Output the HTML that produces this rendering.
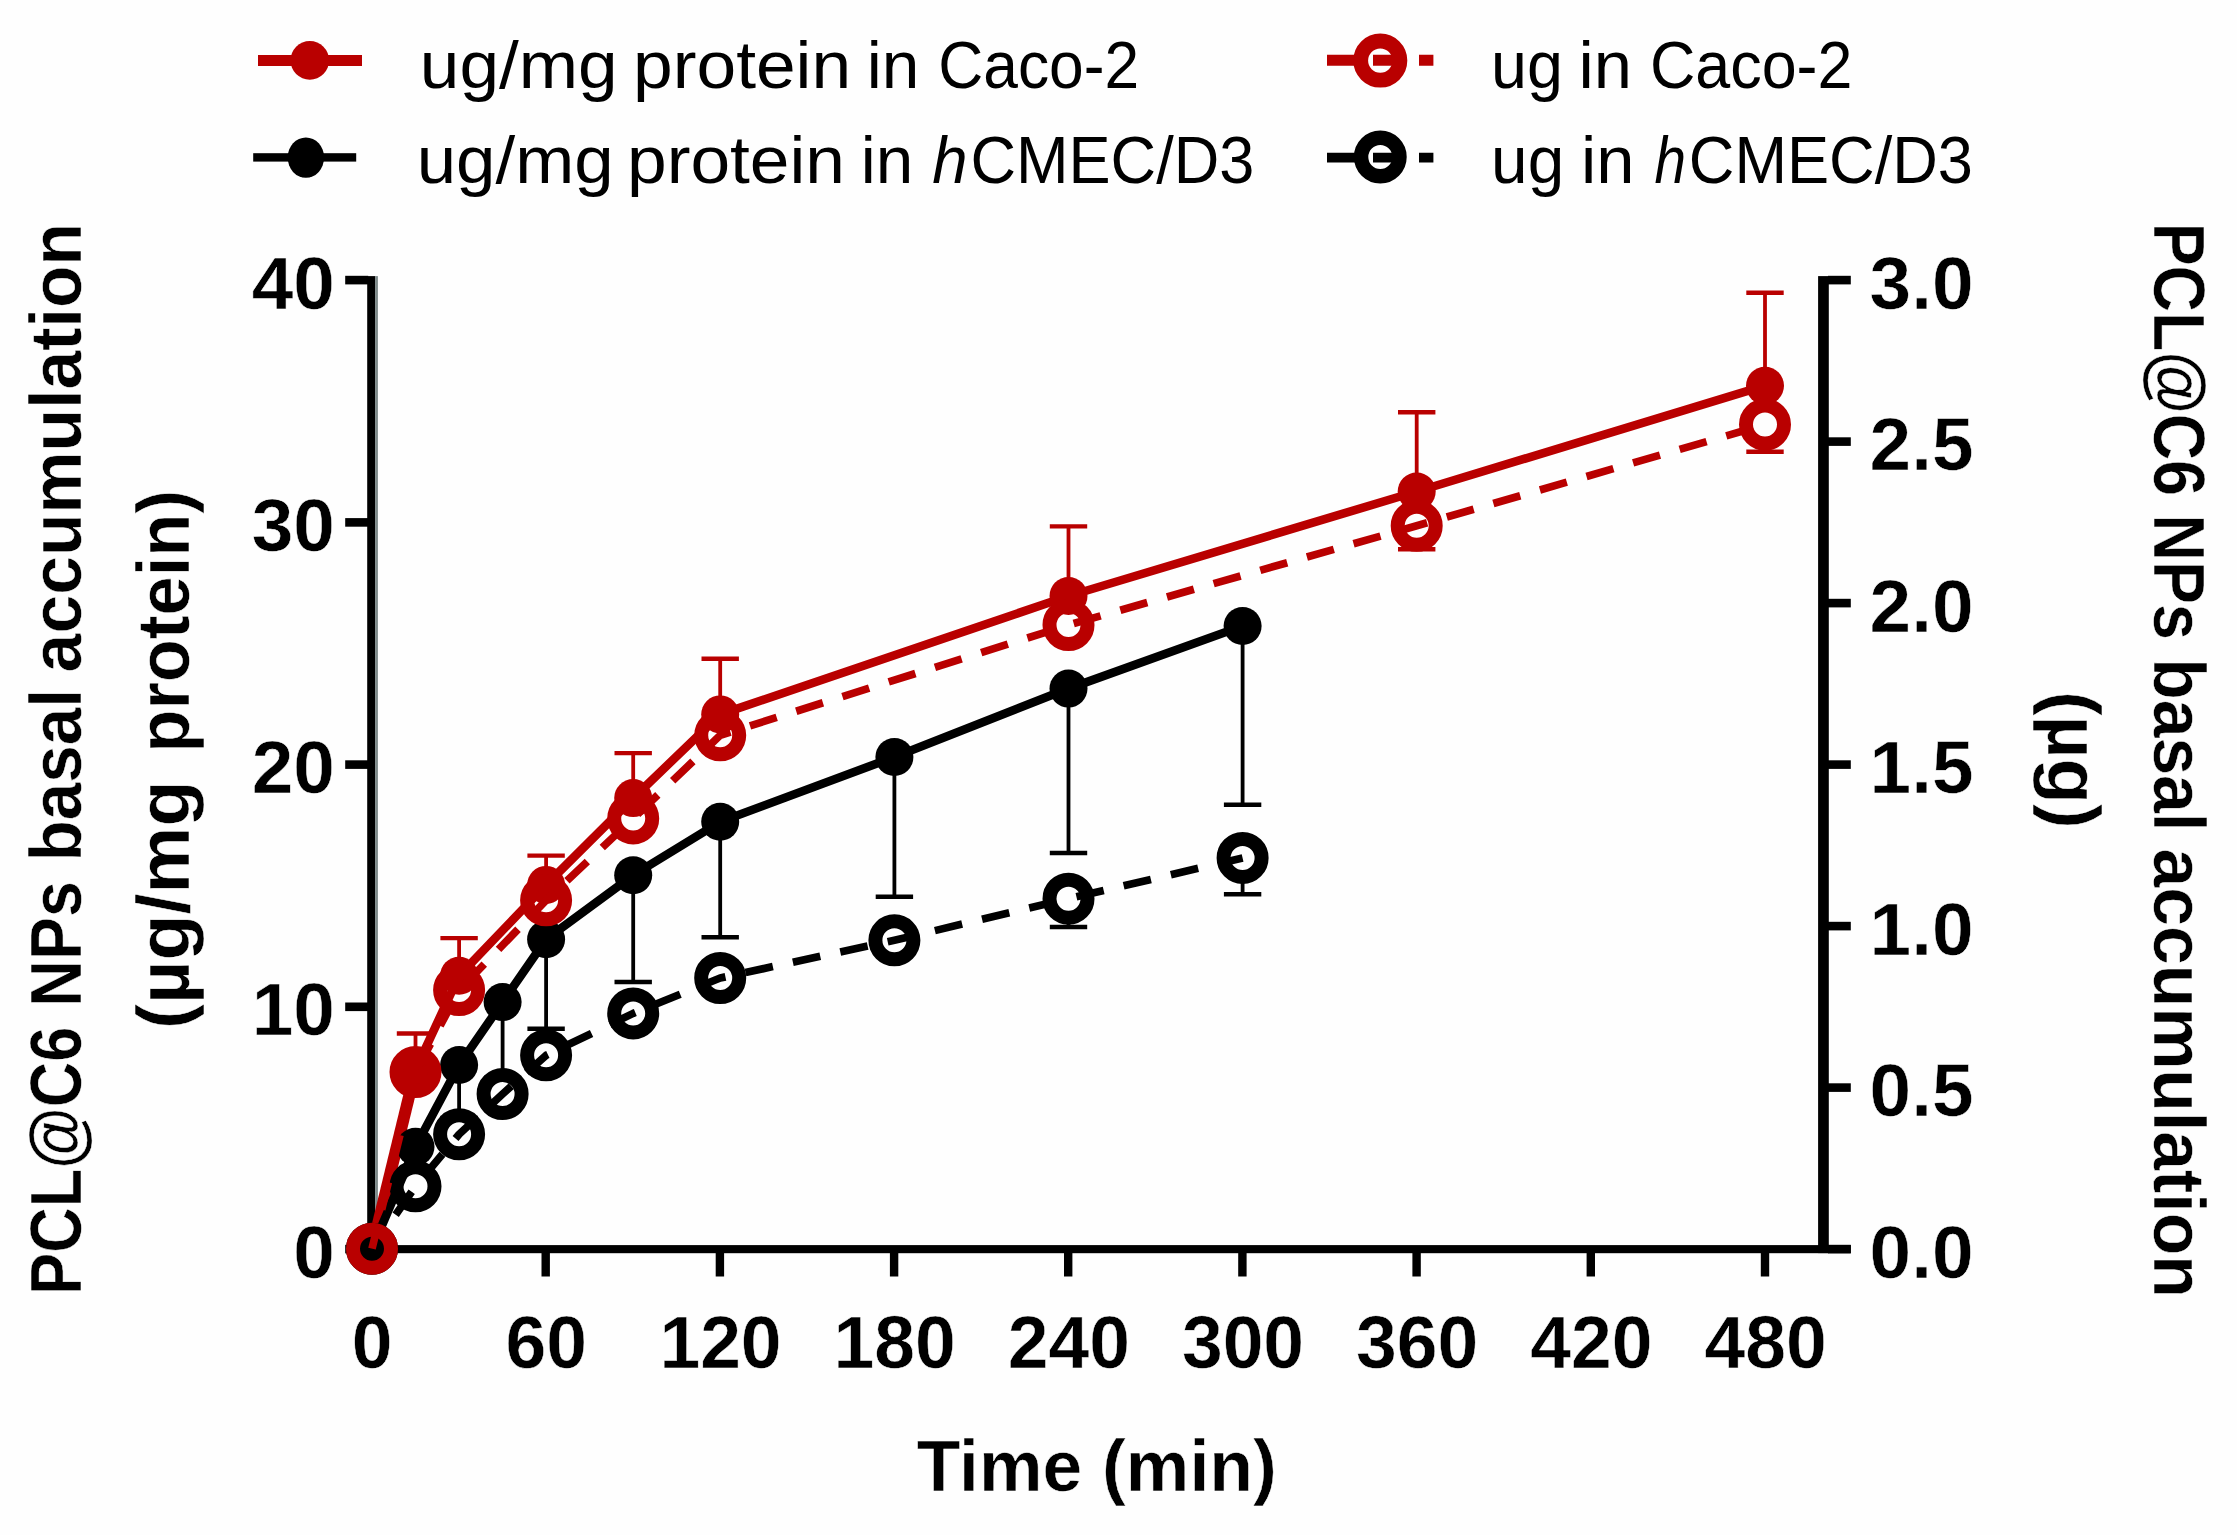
<!DOCTYPE html>
<html lang="en">
<head>
<meta charset="utf-8">
<title>PCL@C6 NPs basal accumulation</title>
<style>
html,body{margin:0;padding:0;background:#fefefe;}
body{width:2237px;height:1535px;overflow:hidden;}
svg{display:block;}
text{font-family:"Liberation Sans",sans-serif;fill:#000;}
text[font-weight="bold"]{stroke:#fefefe;stroke-width:0.5px;}
</style>
</head>
<body>
<svg width="2237" height="1535" viewBox="0 0 2237 1535">
<rect width="2237" height="1535" fill="#fefefe"/>
<g id="legend">
<rect x="258" y="55" width="104" height="11" fill="#b90000"/><circle cx="309.8" cy="60.4" r="19.3" fill="#b90000"/>
<rect x="253.2" y="153.2" width="103" height="8.4" fill="#000"/><ellipse cx="305.9" cy="157.6" rx="18.2" ry="20.2" fill="#000"/>
<line x1="1327" y1="60.2" x2="1433.4" y2="60.2" stroke="#b90000" stroke-width="11" stroke-dasharray="29 17"/>
<circle cx="1380.3" cy="60.6" r="19.6" fill="none" stroke="#b90000" stroke-width="14.8"/>
<line x1="1327" y1="157.6" x2="1433.4" y2="157.6" stroke="#000000" stroke-width="9.6" stroke-dasharray="29 17"/>
<circle cx="1380.3" cy="157.0" r="19.2" fill="none" stroke="#000000" stroke-width="14.4"/>
</g>
<g id="axes">
<rect x="367.2" y="276.1" width="8.1" height="977" fill="#000"/>
<rect x="375.2" y="276.1" width="2.7" height="977" fill="#7d8989"/>
<rect x="1818.1" y="276.1" width="10.7" height="977" fill="#000"/>
<rect x="367.2" y="1245.1" width="1483.6" height="8.1" fill="#000"/>
<rect x="345.2" y="1244.8" width="23" height="8.6" fill="#000"/>
<rect x="345.2" y="1002.5" width="23" height="8.6" fill="#000"/>
<rect x="345.2" y="760.3" width="23" height="8.6" fill="#000"/>
<rect x="345.2" y="518.1" width="23" height="8.6" fill="#000"/>
<rect x="345.2" y="275.8" width="23" height="8.6" fill="#000"/>
<rect x="1828" y="1244.8" width="22.8" height="8.6" fill="#000"/>
<rect x="1828" y="1083.3" width="22.8" height="8.6" fill="#000"/>
<rect x="1828" y="921.8" width="22.8" height="8.6" fill="#000"/>
<rect x="1828" y="760.3" width="22.8" height="8.6" fill="#000"/>
<rect x="1828" y="598.8" width="22.8" height="8.6" fill="#000"/>
<rect x="1828" y="437.3" width="22.8" height="8.6" fill="#000"/>
<rect x="1828" y="275.8" width="22.8" height="8.6" fill="#000"/>
<rect x="541.5" y="1250" width="8.4" height="26.5" fill="#000"/>
<rect x="715.7" y="1250" width="8.4" height="26.5" fill="#000"/>
<rect x="889.9" y="1250" width="8.4" height="26.5" fill="#000"/>
<rect x="1064.0" y="1250" width="8.4" height="26.5" fill="#000"/>
<rect x="1238.2" y="1250" width="8.4" height="26.5" fill="#000"/>
<rect x="1412.4" y="1250" width="8.4" height="26.5" fill="#000"/>
<rect x="1586.6" y="1250" width="8.4" height="26.5" fill="#000"/>
<rect x="1760.8" y="1250" width="8.4" height="26.5" fill="#000"/>
</g>
<g id="plot">
<line x1="372.0" y1="1248.7" x2="415.5" y2="1069.8" stroke="#b90000" stroke-width="12"/>
<line x1="415.5" y1="1069.8" x2="415.5" y2="1033.5" stroke="#b90000" stroke-width="3.8"/>
<line x1="396.8" y1="1033.5" x2="434.2" y2="1033.5" stroke="#b90000" stroke-width="4.4"/>
<line x1="459.1" y1="975.8" x2="459.1" y2="938.1" stroke="#b90000" stroke-width="3.8"/>
<line x1="440.4" y1="938.1" x2="477.8" y2="938.1" stroke="#b90000" stroke-width="4.4"/>
<line x1="546.1" y1="884.9" x2="546.1" y2="855.6" stroke="#b90000" stroke-width="3.8"/>
<line x1="527.4" y1="855.6" x2="564.8" y2="855.6" stroke="#b90000" stroke-width="4.4"/>
<line x1="633.2" y1="798.1" x2="633.2" y2="753.1" stroke="#b90000" stroke-width="3.8"/>
<line x1="614.5" y1="753.1" x2="651.9" y2="753.1" stroke="#b90000" stroke-width="4.4"/>
<line x1="720.2" y1="714.4" x2="720.2" y2="658.8" stroke="#b90000" stroke-width="3.8"/>
<line x1="701.5" y1="658.8" x2="738.9" y2="658.8" stroke="#b90000" stroke-width="4.4"/>
<line x1="1068.5" y1="596.0" x2="1068.5" y2="526.4" stroke="#b90000" stroke-width="3.8"/>
<line x1="1049.8" y1="526.4" x2="1087.2" y2="526.4" stroke="#b90000" stroke-width="4.4"/>
<line x1="1416.7" y1="491.5" x2="1416.7" y2="412.2" stroke="#b90000" stroke-width="3.8"/>
<line x1="1398.0" y1="412.2" x2="1435.4" y2="412.2" stroke="#b90000" stroke-width="4.4"/>
<line x1="1765.0" y1="385.7" x2="1765.0" y2="292.8" stroke="#b90000" stroke-width="3.8"/>
<line x1="1746.3" y1="292.8" x2="1783.7" y2="292.8" stroke="#b90000" stroke-width="4.4"/>
<polyline points="372.0,1248.7 415.5,1069.8 459.1,975.8 546.1,884.9 633.2,798.1 720.2,714.4 1068.5,596.0 1416.7,491.5 1765.0,385.7" fill="none" stroke="#b90000" stroke-width="8.6" stroke-linejoin="round"/>
<circle cx="372.0" cy="1248.7" r="19" fill="#b90000"/>
<circle cx="415.5" cy="1069.8" r="19" fill="#b90000"/>
<circle cx="459.1" cy="975.8" r="19" fill="#b90000"/>
<circle cx="546.1" cy="884.9" r="19" fill="#b90000"/>
<circle cx="633.2" cy="798.1" r="19" fill="#b90000"/>
<circle cx="720.2" cy="714.4" r="19" fill="#b90000"/>
<circle cx="1068.5" cy="596.0" r="19" fill="#b90000"/>
<circle cx="1416.7" cy="491.5" r="19" fill="#b90000"/>
<circle cx="1765.0" cy="385.7" r="19" fill="#b90000"/>
<line x1="459.1" y1="1065.0" x2="459.1" y2="1117.9" stroke="#000000" stroke-width="3.8"/>
<line x1="440.4" y1="1117.9" x2="477.8" y2="1117.9" stroke="#000000" stroke-width="4.4"/>
<line x1="502.6" y1="1002.1" x2="502.6" y2="1078.0" stroke="#000000" stroke-width="3.8"/>
<line x1="483.9" y1="1078.0" x2="521.3" y2="1078.0" stroke="#000000" stroke-width="4.4"/>
<line x1="546.1" y1="939.3" x2="546.1" y2="1028.7" stroke="#000000" stroke-width="3.8"/>
<line x1="527.4" y1="1028.7" x2="564.8" y2="1028.7" stroke="#000000" stroke-width="4.4"/>
<line x1="633.2" y1="875.2" x2="633.2" y2="982.0" stroke="#000000" stroke-width="3.8"/>
<line x1="614.5" y1="982.0" x2="651.9" y2="982.0" stroke="#000000" stroke-width="4.4"/>
<line x1="720.2" y1="821.8" x2="720.2" y2="937.3" stroke="#000000" stroke-width="3.8"/>
<line x1="701.5" y1="937.3" x2="738.9" y2="937.3" stroke="#000000" stroke-width="4.4"/>
<line x1="894.4" y1="757.0" x2="894.4" y2="896.7" stroke="#000000" stroke-width="3.8"/>
<line x1="875.7" y1="896.7" x2="913.1" y2="896.7" stroke="#000000" stroke-width="4.4"/>
<line x1="1068.5" y1="688.6" x2="1068.5" y2="853.0" stroke="#000000" stroke-width="3.8"/>
<line x1="1049.8" y1="853.0" x2="1087.2" y2="853.0" stroke="#000000" stroke-width="4.4"/>
<line x1="1242.6" y1="626.0" x2="1242.6" y2="804.8" stroke="#000000" stroke-width="3.8"/>
<line x1="1223.9" y1="804.8" x2="1261.3" y2="804.8" stroke="#000000" stroke-width="4.4"/>
<polyline points="372.0,1248.7 415.5,1146.8 459.1,1065.0 502.6,1002.1 546.1,939.3 633.2,875.2 720.2,821.8 894.4,757.0 1068.5,688.6 1242.6,626.0" fill="none" stroke="#000000" stroke-width="8.6" stroke-linejoin="round"/>
<circle cx="372.0" cy="1248.7" r="19" fill="#000000"/>
<circle cx="415.5" cy="1146.8" r="19" fill="#000000"/>
<circle cx="459.1" cy="1065.0" r="19" fill="#000000"/>
<circle cx="502.6" cy="1002.1" r="19" fill="#000000"/>
<circle cx="546.1" cy="939.3" r="19" fill="#000000"/>
<circle cx="633.2" cy="875.2" r="19" fill="#000000"/>
<circle cx="720.2" cy="821.8" r="19" fill="#000000"/>
<circle cx="894.4" cy="757.0" r="19" fill="#000000"/>
<circle cx="1068.5" cy="688.6" r="19" fill="#000000"/>
<circle cx="1242.6" cy="626.0" r="19" fill="#000000"/>
<line x1="1068.5" y1="922.7" x2="1068.5" y2="927.0" stroke="#000000" stroke-width="3.8"/>
<line x1="1049.8" y1="927.0" x2="1087.2" y2="927.0" stroke="#000000" stroke-width="4.4"/>
<line x1="1242.6" y1="881.9" x2="1242.6" y2="894.2" stroke="#000000" stroke-width="3.8"/>
<line x1="1223.9" y1="894.2" x2="1261.3" y2="894.2" stroke="#000000" stroke-width="4.4"/>
<polyline points="372.0,1248.7 415.5,1186.3 459.1,1134.3 502.6,1094.0 546.1,1055.3 633.2,1013.4 720.2,978.0 894.4,940.3 1068.5,898.7 1242.6,857.9" fill="none" stroke="#000000" stroke-width="7.7" stroke-linejoin="round" stroke-dasharray="28 20.5" stroke-dashoffset="7.1"/>
<circle cx="372.0" cy="1248.7" r="19" fill="none" stroke="#000000" stroke-width="14"/>
<circle cx="415.5" cy="1186.3" r="19" fill="none" stroke="#000000" stroke-width="14"/>
<circle cx="459.1" cy="1134.3" r="19" fill="none" stroke="#000000" stroke-width="14"/>
<circle cx="502.6" cy="1094.0" r="19" fill="none" stroke="#000000" stroke-width="14"/>
<circle cx="546.1" cy="1055.3" r="19" fill="none" stroke="#000000" stroke-width="14"/>
<circle cx="633.2" cy="1013.4" r="19" fill="none" stroke="#000000" stroke-width="14"/>
<circle cx="720.2" cy="978.0" r="19" fill="none" stroke="#000000" stroke-width="14"/>
<circle cx="894.4" cy="940.3" r="19" fill="none" stroke="#000000" stroke-width="14"/>
<circle cx="1068.5" cy="898.7" r="19" fill="none" stroke="#000000" stroke-width="14"/>
<circle cx="1242.6" cy="857.9" r="19" fill="none" stroke="#000000" stroke-width="14"/>
<line x1="1416.7" y1="549.8" x2="1416.7" y2="549.3" stroke="#b90000" stroke-width="3.8"/>
<line x1="1398.0" y1="549.3" x2="1435.4" y2="549.3" stroke="#b90000" stroke-width="4.4"/>
<line x1="1765.0" y1="448.6" x2="1765.0" y2="451.7" stroke="#b90000" stroke-width="3.8"/>
<line x1="1746.3" y1="451.7" x2="1783.7" y2="451.7" stroke="#b90000" stroke-width="4.4"/>
<polyline points="372.0,1248.7 415.5,1072.1 459.1,990.1 546.1,900.3 633.2,818.4 720.2,735.3 1068.5,625.0 1416.7,525.8 1765.0,424.6" fill="none" stroke="#b90000" stroke-width="7.7" stroke-linejoin="round" stroke-dasharray="28 20.5" stroke-dashoffset="8.1"/>
<circle cx="372.0" cy="1248.7" r="19" fill="none" stroke="#b90000" stroke-width="14"/>
<circle cx="415.5" cy="1072.1" r="19" fill="none" stroke="#b90000" stroke-width="14"/>
<circle cx="459.1" cy="990.1" r="19" fill="none" stroke="#b90000" stroke-width="14"/>
<circle cx="546.1" cy="900.3" r="19" fill="none" stroke="#b90000" stroke-width="14"/>
<circle cx="633.2" cy="818.4" r="19" fill="none" stroke="#b90000" stroke-width="14"/>
<circle cx="720.2" cy="735.3" r="19" fill="none" stroke="#b90000" stroke-width="14"/>
<circle cx="1068.5" cy="625.0" r="19" fill="none" stroke="#b90000" stroke-width="14"/>
<circle cx="1416.7" cy="525.8" r="19" fill="none" stroke="#b90000" stroke-width="14"/>
<circle cx="1765.0" cy="424.6" r="19" fill="none" stroke="#b90000" stroke-width="14"/>
</g>
<g id="labels">
<text transform="translate(334.8,1277.6) scale(1.01,1)" font-size="74" font-weight="bold" text-anchor="end">0</text>
<text transform="translate(334.8,1035.4) scale(1.01,1)" font-size="74" font-weight="bold" text-anchor="end">10</text>
<text transform="translate(334.8,793.2) scale(1.01,1)" font-size="74" font-weight="bold" text-anchor="end">20</text>
<text transform="translate(334.8,551.0) scale(1.01,1)" font-size="74" font-weight="bold" text-anchor="end">30</text>
<text transform="translate(334.8,308.8) scale(1.01,1)" font-size="74" font-weight="bold" text-anchor="end">40</text>
<text transform="translate(1869.6,1277.8) scale(1.01,1)" font-size="74" font-weight="bold" text-anchor="start">0.0</text>
<text transform="translate(1869.6,1116.3) scale(1.01,1)" font-size="74" font-weight="bold" text-anchor="start">0.5</text>
<text transform="translate(1869.6,954.8) scale(1.01,1)" font-size="74" font-weight="bold" text-anchor="start">1.0</text>
<text transform="translate(1869.6,793.3) scale(1.01,1)" font-size="74" font-weight="bold" text-anchor="start">1.5</text>
<text transform="translate(1869.6,631.8) scale(1.01,1)" font-size="74" font-weight="bold" text-anchor="start">2.0</text>
<text transform="translate(1869.6,470.3) scale(1.01,1)" font-size="74" font-weight="bold" text-anchor="start">2.5</text>
<text transform="translate(1869.6,308.8) scale(1.01,1)" font-size="74" font-weight="bold" text-anchor="start">3.0</text>
<text transform="translate(372.1,1368) scale(0.99,1)" font-size="74" font-weight="bold" text-anchor="middle">0</text>
<text transform="translate(546.3,1368) scale(0.99,1)" font-size="74" font-weight="bold" text-anchor="middle">60</text>
<text transform="translate(720.5,1368) scale(0.99,1)" font-size="74" font-weight="bold" text-anchor="middle">120</text>
<text transform="translate(894.7,1368) scale(0.99,1)" font-size="74" font-weight="bold" text-anchor="middle">180</text>
<text transform="translate(1068.8,1368) scale(0.99,1)" font-size="74" font-weight="bold" text-anchor="middle">240</text>
<text transform="translate(1243.0,1368) scale(0.99,1)" font-size="74" font-weight="bold" text-anchor="middle">300</text>
<text transform="translate(1417.2,1368) scale(0.99,1)" font-size="74" font-weight="bold" text-anchor="middle">360</text>
<text transform="translate(1591.4,1368) scale(0.99,1)" font-size="74" font-weight="bold" text-anchor="middle">420</text>
<text transform="translate(1765.6,1368) scale(0.99,1)" font-size="74" font-weight="bold" text-anchor="middle">480</text>
<text transform="translate(1096.7,1490.5) scale(0.993,1)" font-size="72" font-weight="bold" text-anchor="middle">Time (min)</text>
<text transform="translate(80.5,0) rotate(-90)" y="0" font-size="73" font-weight="bold"><tspan x="-1294.9" textLength="268.1" lengthAdjust="spacingAndGlyphs">PCL@C6</tspan> <tspan x="-1006.7" textLength="125.5" lengthAdjust="spacingAndGlyphs">NPs</tspan> <tspan x="-861.5" textLength="172.5" lengthAdjust="spacingAndGlyphs">basal</tspan> <tspan x="-672.4" textLength="449.5" lengthAdjust="spacingAndGlyphs">accumulation</tspan></text>
<text transform="translate(189,0) rotate(-90)" y="0" font-size="74" font-weight="bold"><tspan x="-1029.1" textLength="248.6" lengthAdjust="spacingAndGlyphs">(µg/mg</tspan> <tspan x="-752.7" textLength="262.6" lengthAdjust="spacingAndGlyphs">protein)</tspan></text>
<text transform="translate(2154,0) rotate(90)" y="0" font-size="73" font-weight="bold"><tspan x="222.8" textLength="273.1" lengthAdjust="spacingAndGlyphs">PCL@C6</tspan> <tspan x="514.5" textLength="125.5" lengthAdjust="spacingAndGlyphs">NPs</tspan> <tspan x="658.3" textLength="173.3" lengthAdjust="spacingAndGlyphs">basal</tspan> <tspan x="848.5" textLength="449.3" lengthAdjust="spacingAndGlyphs">accumulation</tspan></text>
<text transform="translate(2048,0) rotate(90)" y="0" font-size="74" font-weight="bold"><tspan x="691.0" textLength="137.8" lengthAdjust="spacingAndGlyphs">(µg)</tspan></text>
<text y="88" font-size="67" font-weight="normal"><tspan x="419.8" textLength="197.9" lengthAdjust="spacingAndGlyphs">ug/mg</tspan> <tspan x="633.1" textLength="218.0" lengthAdjust="spacingAndGlyphs">protein</tspan> <tspan x="866.7" textLength="52.6" lengthAdjust="spacingAndGlyphs">in</tspan> <tspan x="938.3" textLength="200.9" lengthAdjust="spacingAndGlyphs">Caco-2</tspan></text>
<text y="183" font-size="67" font-weight="normal"><tspan x="416.7" textLength="197.0" lengthAdjust="spacingAndGlyphs">ug/mg</tspan> <tspan x="627.0" textLength="218.0" lengthAdjust="spacingAndGlyphs">protein</tspan> <tspan x="860.7" textLength="52.5" lengthAdjust="spacingAndGlyphs">in</tspan> <tspan x="932.2" textLength="35.3" lengthAdjust="spacingAndGlyphs" font-style="italic">h</tspan><tspan x="970.5" textLength="283.8" lengthAdjust="spacingAndGlyphs">CMEC/D3</tspan></text>
<text y="87.6" font-size="67" font-weight="normal"><tspan x="1491.1" textLength="71.9" lengthAdjust="spacingAndGlyphs">ug</tspan> <tspan x="1578.6" textLength="53.5" lengthAdjust="spacingAndGlyphs">in</tspan> <tspan x="1650.0" textLength="202.4" lengthAdjust="spacingAndGlyphs">Caco-2</tspan></text>
<text y="182.7" font-size="67" font-weight="normal"><tspan x="1491.1" textLength="73.1" lengthAdjust="spacingAndGlyphs">ug</tspan> <tspan x="1581.1" textLength="53.5" lengthAdjust="spacingAndGlyphs">in</tspan> <tspan x="1654.5" textLength="31.5" lengthAdjust="spacingAndGlyphs" font-style="italic">h</tspan><tspan x="1688.8" textLength="284.1" lengthAdjust="spacingAndGlyphs">CMEC/D3</tspan></text>
</g>
</svg>
</body>
</html>
